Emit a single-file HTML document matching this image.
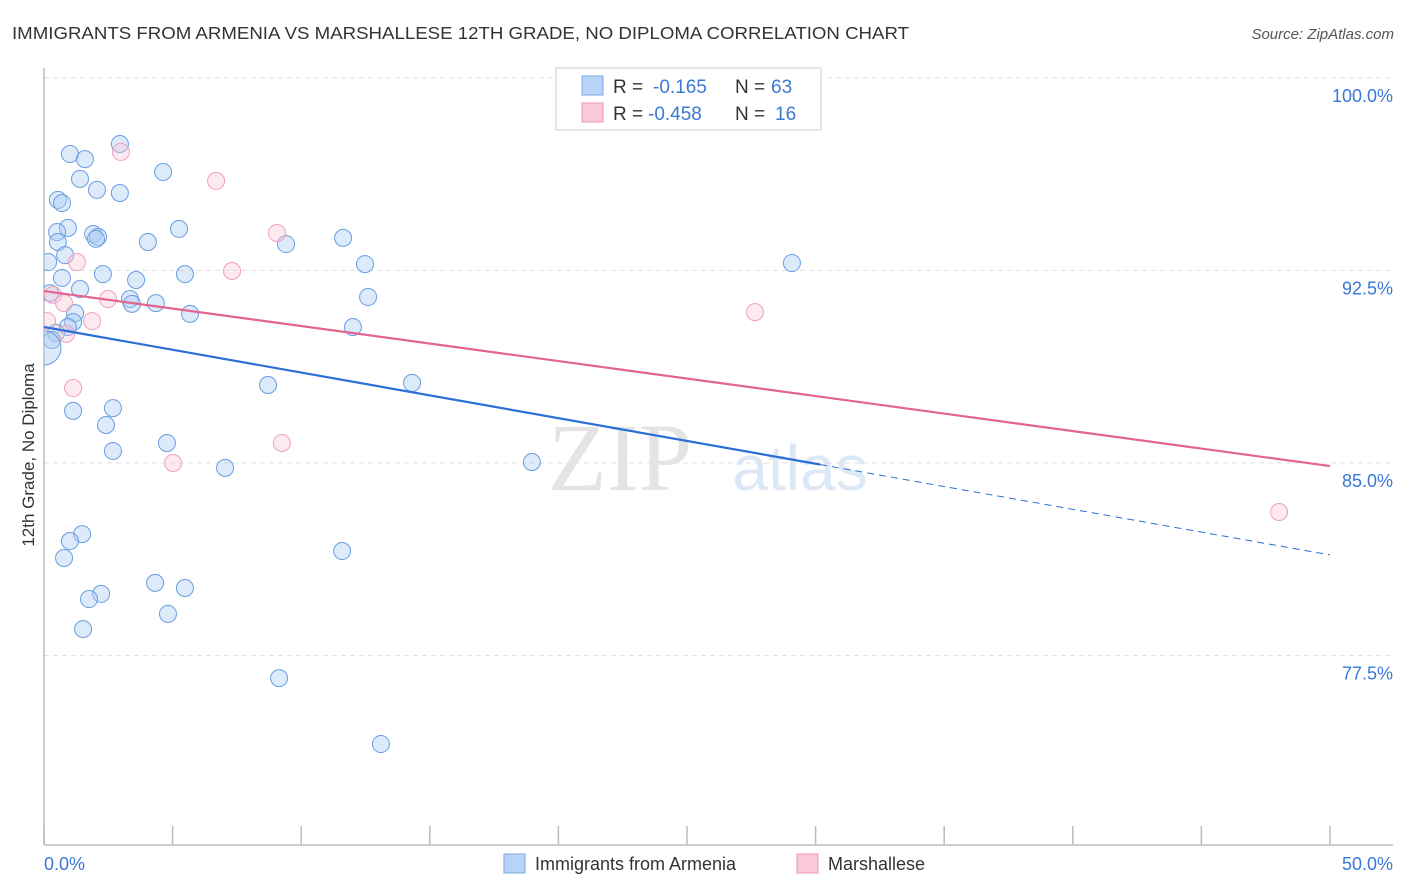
<!DOCTYPE html>
<html><head><meta charset="utf-8"><style>
body{margin:0;background:#fff;font-family:"Liberation Sans",sans-serif;}
#wrap{position:relative;width:1406px;height:892px;overflow:hidden;}
</style></head><body>
<div id="wrap">
<svg id="chart" width="1406" height="892" xmlns="http://www.w3.org/2000/svg">
<defs><clipPath id="plotclip"><rect x="44" y="60" width="1360" height="785"/></clipPath></defs>
<text x="12" y="39" font-size="17.5" fill="#333" textLength="897" lengthAdjust="spacingAndGlyphs">IMMIGRANTS FROM ARMENIA VS MARSHALLESE 12TH GRADE, NO DIPLOMA CORRELATION CHART</text>
<text x="1394" y="39" font-size="15" fill="#555" font-style="italic" text-anchor="end">Source: ZipAtlas.com</text>
<text x="620" y="490" font-size="96" fill="#e4e4e4" font-family="Liberation Serif, serif" text-anchor="middle">ZIP</text>
<text x="800" y="490" font-size="64" fill="#dde8f6" text-anchor="middle">atlas</text>
<g id="grid"></g>
<g id="axes"></g>
<g id="marks" clip-path="url(#plotclip)"></g>
<text transform="translate(34,455) rotate(-90)" font-size="17" fill="#333" text-anchor="middle">12th Grade, No Diploma</text>
<g>
<rect x="556" y="68" width="265" height="62" fill="#fff" stroke="#ccc"/>
<rect x="582" y="76" width="21" height="19" fill="#b8d3f5" stroke="#7aa8e6"/>
<rect x="582" y="103" width="21" height="19" fill="#fbc8d8" stroke="#ef9ab6"/>
<text x="613" y="93" font-size="19" fill="#333">R =</text>
<text x="653" y="93" font-size="19" fill="#3a78d6">-0.165</text>
<text x="735" y="93" font-size="19" fill="#333">N =</text>
<text x="771" y="93" font-size="19" fill="#3a78d6">63</text>
<text x="613" y="120" font-size="19" fill="#333">R =</text>
<text x="648" y="120" font-size="19" fill="#3a78d6">-0.458</text>
<text x="735" y="120" font-size="19" fill="#333">N =</text>
<text x="775" y="120" font-size="19" fill="#3a78d6">16</text>
</g>
<g>
<rect x="504" y="854" width="21" height="19" fill="#b8d3f5" stroke="#7aa8e6"/>
<text x="535" y="870" font-size="18" fill="#333">Immigrants from Armenia</text>
<rect x="797" y="854" width="21" height="19" fill="#fbc8d8" stroke="#ef9ab6"/>
<text x="828" y="870" font-size="18" fill="#333">Marshallese</text>
</g>
</svg>
</div>
<script>
const yTicks=[100,92.5,85,77.5];
const yTickLabels=["100.0%","92.5%","85.0%","77.5%"];
const xTickLabels=["0.0%","50.0%"];
const blueX=[2.95,1.01,1.59,4.63,1.40,2.06,2.95,0.54,0.70,0.93,0.51,1.91,2.10,2.02,5.25,4.04,9.41,11.63,0.54,0.82,0.16,12.48,29.08,0.70,2.29,3.58,5.48,0.23,1.40,3.34,3.42,4.35,12.60,1.21,5.68,1.13,0.93,12.01,0.47,0.31,8.71,14.31,2.68,1.13,2.41,4.78,2.68,7.04,18.97,1.48,1.01,0.78,11.59,4.32,5.48,2.22,1.75,4.82,1.52,9.14,13.10];
const blueY=[97.43,97.04,96.84,96.34,96.07,95.64,95.52,95.25,95.13,94.16,94.00,93.92,93.81,93.73,94.12,93.61,93.53,93.77,93.61,93.10,92.83,92.75,92.79,92.21,92.36,92.13,92.36,91.62,91.78,91.39,91.20,91.23,91.47,90.84,90.81,90.49,90.30,90.30,90.07,89.79,88.04,88.12,87.14,87.03,86.48,85.78,85.47,84.81,85.04,82.23,81.96,81.30,81.57,80.33,80.13,79.90,79.70,79.12,78.53,76.62,74.05];
const pinkX=[2.99,6.69,9.06,7.31,1.28,0.35,0.78,2.49,1.87,0.12,0.86,27.64,1.13,9.25,5.02,48.02];
const pinkY=[97.12,95.99,93.96,92.48,92.83,91.55,91.23,91.39,90.53,90.53,90.03,90.88,87.92,85.78,85.00,83.09];
const blueTrend=[90.30,81.42];
const pinkTrend=[91.70,84.88];
const blueSolidEnd=30.17;

const X0=44,X1=1330,YTOP=78,PXPER=25.667;
const sx=v=>X0+(v/50)*(X1-X0);
const sy=v=>YTOP+(100-v)*PXPER;
const NS="http://www.w3.org/2000/svg";
function mk(t,a,p){const e=document.createElementNS(NS,t);for(const k in a)e.setAttribute(k,a[k]);p.appendChild(e);return e;}
const grid=document.getElementById('grid'),axes=document.getElementById('axes'),marks=document.getElementById('marks');
yTicks.forEach((t,i)=>{
  const l=mk('line',{x1:X0,x2:1393,y1:sy(t),y2:sy(t),stroke:'#e2e2e2','stroke-dasharray':'5,4'},grid);
  
  
  const tx=mk('text',{x:1393,y:sy(t)+24,'font-size':18,fill:'#3a78d6','text-anchor':'end'},axes);
  tx.textContent=yTickLabels[i];
  
  
});
const ax=mk('line',{x1:X0,x2:X0,y1:68,y2:845,stroke:'#bbb','stroke-width':1.5},axes);


const bx=mk('line',{x1:X0,x2:1393,y1:845,y2:845,stroke:'#bbb','stroke-width':1.5},axes);


for(let i=0;i<=10;i++){
  const t=mk('line',{x1:sx(i*5),x2:sx(i*5),y1:826,y2:845,stroke:'#bbb','stroke-width':1.5},axes);
  
  
}
[[0,'start'],[50,'end']].forEach((d,i)=>{
  const t=mk('text',{x:i?1393:44,y:870,'font-size':18,fill:'#3a78d6','text-anchor':d[1]},axes);
  t.textContent=xTickLabels[i];
  
  
});
blueX.forEach((x,i)=>{
  const c=mk('circle',{cx:sx(x),cy:sy(blueY[i]),r:8.5,fill:'rgba(170,202,242,0.4)',stroke:'#6a9de2','stroke-width':1},marks);
  
  
});
const big=mk('circle',{cx:sx(0),cy:sy(89.48),r:17,fill:'rgba(170,202,242,0.4)',stroke:'#6a9de2','stroke-width':1},marks);


pinkX.forEach((x,i)=>{
  const c=mk('circle',{cx:sx(x),cy:sy(pinkY[i]),r:8.5,fill:'rgba(248,196,214,0.35)',stroke:'#f0a0bb','stroke-width':1},marks);
  
  
});
const by=x=>blueTrend[0]+(blueTrend[1]-blueTrend[0])*x/50;
const t1=mk('line',{x1:sx(0),y1:sy(blueTrend[0]),x2:sx(blueSolidEnd),y2:sy(by(blueSolidEnd)),stroke:'#2b6fd6','stroke-width':2.2},marks);


const t2=mk('line',{x1:sx(blueSolidEnd),y1:sy(by(blueSolidEnd)),x2:sx(50),y2:sy(blueTrend[1]),stroke:'#2b6fd6','stroke-width':1,'stroke-dasharray':'7,5'},marks);


const t3=mk('line',{x1:sx(0),y1:sy(pinkTrend[0]),x2:sx(50),y2:sy(pinkTrend[1]),stroke:'#e2648f','stroke-width':2.2},marks);


</script>
</body></html>
